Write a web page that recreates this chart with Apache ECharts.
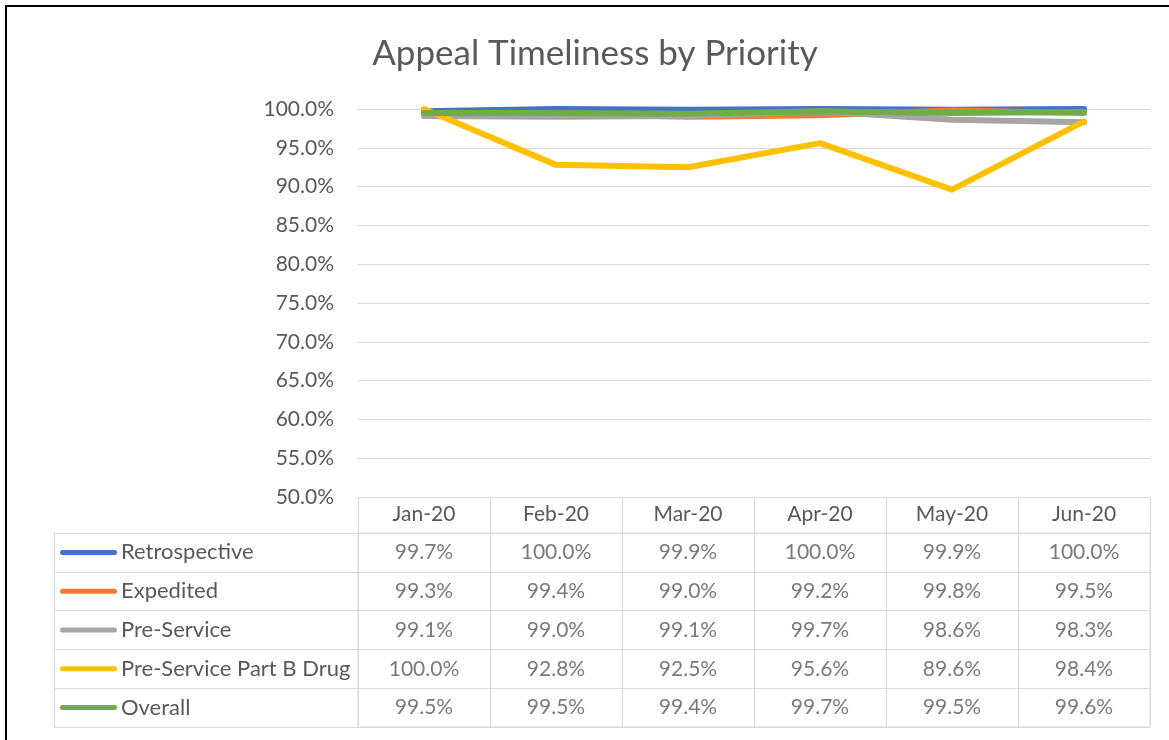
<!DOCTYPE html>
<html>
<head>
<meta charset="utf-8">
<script src="https://cdn.jsdelivr.net/npm/echarts@6/dist/echarts.min.js"></script>
<style>
  html, body { margin: 0; padding: 0; background: #fff; }
  #main { width: 1169px; height: 740px; }
</style>
</head>
<body>
<div id="main"></div>
<script>
// months along the x axis / table header
var months = ['Jan-20', 'Feb-20', 'Mar-20', 'Apr-20', 'May-20', 'Jun-20'];

// series values, percent
var retrospective = [99.7, 100.0, 99.9, 100.0, 99.9, 100.0];
var expedited     = [99.3, 99.4, 99.0, 99.2, 99.8, 99.5];
var preService    = [99.1, 99.0, 99.1, 99.7, 98.6, 98.3];
var partBDrug     = [100.0, 92.8, 92.5, 95.6, 89.6, 98.4];
var overall       = [99.5, 99.5, 99.4, 99.7, 99.5, 99.6];

var seriesNames = ['Retrospective', 'Expedited', 'Pre-Service', 'Pre-Service Part B Drug', 'Overall'];
var seriesData = [retrospective, expedited, preService, partBDrug, overall];
var colors = ['#4472C4', '#ED7D31', '#A5A5A5', '#FFC000', '#70AD47'];

var font = 'Lato, "Open Sans", sans-serif';
var textColor = '#595959';
var gridColor = '#d9d9d9';
var fs = 21;

var chart = echarts.init(document.getElementById('main'));

// line series
var series = seriesNames.map(function (name, i) {
  return {
    name: name,
    type: 'line',
    xAxisIndex: 0,
    yAxisIndex: 0,
    data: seriesData[i],
    symbol: 'none',
    lineStyle: { width: 6, color: colors[i], cap: 'round', join: 'round' },
    itemStyle: { color: colors[i] },
    z: 2 + i
  };
});

// data table cells
var cells = [];
seriesData.forEach(function (arr, r) {
  arr.forEach(function (v, c) {
    cells.push([c, r, v]);
  });
});
series.push({
  type: 'scatter',
  xAxisIndex: 1,
  yAxisIndex: 1,
  data: cells,
  symbolSize: 1,
  itemStyle: { color: 'rgba(0,0,0,0)' },
  label: {
    show: true,
    position: 'inside',
    fontFamily: font,
    fontSize: fs,
    color: textColor,
    formatter: function (p) { return p.value[2].toFixed(1) + '%'; }
  }
});

// rich styles for the legend keys in the table
var rich = { name: { fontFamily: font, fontSize: 22, color: textColor, padding: [0, 0, 0, 4] } };
colors.forEach(function (c, i) {
  rich['k' + i] = { width: 57, height: 5, backgroundColor: c, borderRadius: 3 };
});

var option = {
  backgroundColor: '#fff',
  animation: false,
  title: {
    text: 'Appeal Timeliness by Priority',
    left: 590,
    top: 31,
    textAlign: 'center',
    textStyle: { fontFamily: font, fontSize: 35, fontWeight: 'normal', color: textColor }
  },
  graphic: [{
    type: 'rect',
    shape: { x: 6, y: 6, width: 1300, height: 900 },
    style: { fill: 'none', stroke: '#000', lineWidth: 2 },
    silent: true
  }],
  grid: [
    { left: 358, width: 792, top: 109, height: 388 },
    { left: 358, width: 792, top: 533, height: 194, show: true, borderColor: gridColor, borderWidth: 1 }
  ],
  xAxis: [{
    type: 'category',
    gridIndex: 0,
    data: months,
    boundaryGap: true,
    axisLine: { lineStyle: { color: gridColor, width: 1 } },
    axisTick: { show: true, inside: false, length: 36, lineStyle: { color: gridColor } },
    axisLabel: { margin: 7, fontFamily: font, fontSize: fs, color: textColor }
  }, {
    type: 'category',
    gridIndex: 1,
    data: months,
    boundaryGap: true,
    axisLine: { show: false },
    axisTick: { show: false },
    axisLabel: { show: false },
    splitLine: { show: true, lineStyle: { color: gridColor } }
  }],
  yAxis: [{
    type: 'value',
    gridIndex: 0,
    min: 50,
    max: 100,
    interval: 5,
    axisLine: { show: false },
    axisTick: { show: false },
    axisLabel: {
      margin: 24, fontFamily: font, fontSize: fs, color: textColor,
      formatter: function (v) { return v.toFixed(1) + '%'; }
    },
    splitLine: { lineStyle: { color: gridColor } }
  }, {
    type: 'category',
    gridIndex: 1,
    data: seriesNames,
    inverse: true,
    boundaryGap: true,
    axisLine: { show: true, lineStyle: { color: gridColor } },
    axisTick: { show: true, length: 304, lineStyle: { color: gridColor } },
    splitLine: { show: true, lineStyle: { color: gridColor } },
    axisLabel: {
      align: 'left',
      margin: 298,
      rich: rich,
      formatter: function (v, i) { return '{k' + i + '|}{name|' + v + '}'; }
    }
  }, {
    type: 'category',
    gridIndex: 1,
    data: seriesNames,
    position: 'left',
    offset: 304,
    axisLine: { show: true, lineStyle: { color: gridColor } },
    axisTick: { show: false },
    axisLabel: { show: false }
  }],
  series: series
};

chart.setOption(option);
</script>
</body>
</html>
